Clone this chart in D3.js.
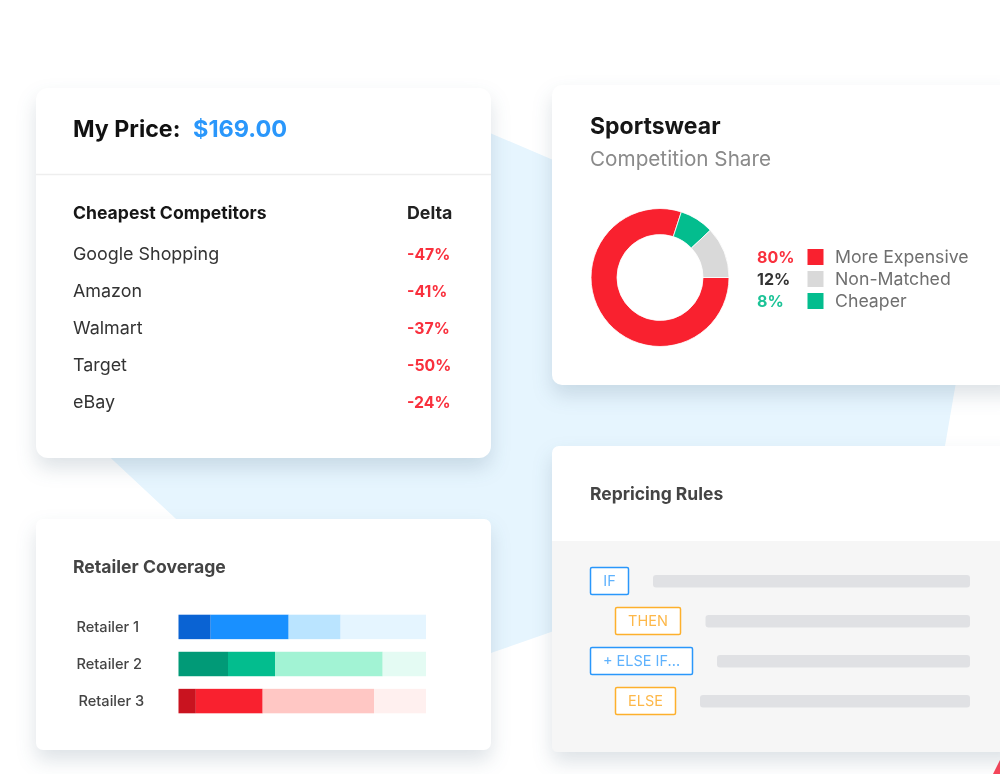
<!DOCTYPE html>
<html>
<head>
<meta charset="utf-8">
<script src="https://cdn.jsdelivr.net/npm/d3@7"></script>
<style>
  html, body { margin: 0; padding: 0; background: #fff; overflow: hidden; }
  svg { display: block; font-family: Inter, "Open Sans", sans-serif; filter: blur(0.4px); }
  .card { filter: drop-shadow(0 10px 10px rgba(30, 60, 90, 0.15)); }
</style>
</head>
<body>
<svg id="chart" width="1000" height="774"></svg>
<script>
// Competitor table
const competitors = ["Google Shopping", "Amazon", "Walmart", "Target", "eBay"];
const deltas = [-47, -41, -37, -50, -24];

// Donut, legend order
const shareLabels = ["More Expensive", "Non-Matched", "Cheaper"];
const shareValues = [80, 12, 8];
const shareColors = ["#f9212f", "#d9d9d9", "#03bd8e"];
const shareTextColors = ["#f9303d", "#333333", "#1cc397"];
const shareDrawOrder = ["More Expensive", "Cheaper", "Non-Matched"];

// Retailer stacked bars (percent of the track)
const retailers = ["Retailer 1", "Retailer 2", "Retailer 3"];
const coverageA = [13, 20, 7];
const coverageB = [31.5, 19, 27];
const coverageC = [21, 43.5, 45];
const coverageD = [34.5, 17.5, 21];
const coverageColors = [
    ["#0a63d3", "#1990ff", "#bae4ff", "#e5f5ff"],
    ["#019a77", "#03bd8e", "#a2f3d4", "#e4fbf3"],
    ["#c9131f", "#f9212f", "#ffc7c4", "#fff0ef"]
];

// Repricing rules
const ruleTags = ["IF", "THEN", "+ ELSE IF...", "ELSE"];
const ruleLevels = [0, 1, 0, 1];
const ruleLengths = [317, 264.5, 253, 270];

const svg = d3.select("#chart");

function addText(g, x, y, str, size, weight, fill, anchor) {
    return g.append("text")
        .attr("x", x).attr("y", y)
        .attr("font-size", size)
        .attr("font-weight", weight)
        .attr("fill", fill)
        .attr("text-anchor", anchor || "start")
        .text(str);
}

// Light blue shape behind the cards
svg.append("path")
    .attr("d", "M300 100 L400 100 L490 133 L600 180 L965 330 L945 446 L700 580 L491 653 L300 640 L175 518 L70 420 Z")
    .attr("fill", "#e6f5fe");

// Red corner fragment, bottom right
svg.append("path")
    .attr("d", "M1000 760 L993 774 L1000 774 Z")
    .attr("fill", "#f9465a");

// --- price card ---
const priceCard = svg.append("g").attr("class", "card");
priceCard.append("rect")
    .attr("x", 36).attr("y", 88).attr("width", 455).attr("height", 370)
    .attr("rx", 12).attr("fill", "#fff");
priceCard.append("line")
    .attr("x1", 36).attr("x2", 491).attr("y1", 174.5).attr("y2", 174.5)
    .attr("stroke", "#eeeeee").attr("stroke-width", 1.5);

const price = svg.append("g");
addText(price, 73, 137, "My Price:", 23.2, 700, "#111111");
addText(price, 193, 137, "$169.00", 23.5, 700, "#2a97fb");
addText(price, 73, 218.5, "Cheapest Competitors", 17.6, 700, "#161616");
addText(price, 407, 218.5, "Delta", 17.8, 700, "#222222");

const rowY = d3.scalePoint().domain(competitors).range([254, 402]);
const rows = price.selectAll("g.row").data(competitors).join("g")
    .attr("class", "row")
    .attr("transform", d => `translate(0,${rowY(d)})`);
rows.append("text")
    .attr("x", 73).attr("dy", "0.36em")
    .attr("font-size", 17.9).attr("fill", "#333333")
    .text(d => d);
rows.append("text")
    .attr("x", 407).attr("dy", "0.36em")
    .attr("font-size", 15.8).attr("font-weight", 700).attr("fill", "#f9303d")
    .text((d, i) => `${deltas[i]}%`);

// --- sportswear card ---
const shareCard = svg.append("g").attr("class", "card");
shareCard.append("rect")
    .attr("x", 552).attr("y", 85).attr("width", 470).attr("height", 300)
    .attr("rx", 10).attr("fill", "#fff");

const share = svg.append("g");
addText(share, 590, 134, "Sportswear", 23, 700, "#161616");
addText(share, 590, 166, "Competition Share", 20.7, 400, "#8a8a8a");

const shareData = shareDrawOrder.map(name => ({
    name,
    value: shareValues[shareLabels.indexOf(name)],
    color: shareColors[shareLabels.indexOf(name)]
}));
const pie = d3.pie().sort(null).value(d => d.value)
    .startAngle(Math.PI / 2).endAngle(Math.PI / 2 + 2 * Math.PI);
const arc = d3.arc().innerRadius(43).outerRadius(69);
share.append("g")
    .attr("transform", "translate(660,277.5)")
    .selectAll("path").data(pie(shareData)).join("path")
    .attr("d", arc)
    .attr("fill", d => d.data.color)
    .attr("stroke", "#fff").attr("stroke-width", 0.8);

const legendY = d3.scalePoint().domain(shareLabels).range([257, 301]);
const legend = share.selectAll("g.legend").data(shareLabels).join("g")
    .attr("class", "legend")
    .attr("transform", d => `translate(0,${legendY(d)})`);
legend.append("text")
    .attr("x", 757).attr("dy", "0.36em")
    .attr("font-size", 16).attr("font-weight", 700)
    .attr("fill", (d, i) => shareTextColors[i])
    .text((d, i) => `${shareValues[i]}%`);
legend.append("rect")
    .attr("x", 807.5).attr("y", -8).attr("width", 16).attr("height", 16)
    .attr("fill", (d, i) => shareColors[i]);
legend.append("text")
    .attr("x", 835).attr("dy", "0.36em")
    .attr("font-size", 17.7).attr("fill", "#6f6f6f")
    .text(d => d);

// --- retailer coverage card ---
const coverageCard = svg.append("g").attr("class", "card");
coverageCard.append("rect")
    .attr("x", 36).attr("y", 519).attr("width", 455).attr("height", 231)
    .attr("rx", 7).attr("fill", "#fff");

const coverage = svg.append("g");
addText(coverage, 73, 573, "Retailer Coverage", 17.6, 700, "#444444");

const stackRows = retailers.map((name, i) => ({
    name, a: coverageA[i], b: coverageB[i], c: coverageC[i], d: coverageD[i]
}));
const series = d3.stack().keys(["a", "b", "c", "d"])(stackRows);
const xBar = d3.scaleLinear().domain([0, 100]).range([178.5, 426]);
const yBar = d3.scaleBand().domain(retailers).range([614.7, 713.3]).paddingInner(0.34);

coverage.selectAll("g.seg").data(series).join("g")
    .attr("class", "seg")
    .selectAll("rect").data((s, k) => s.map((v, i) => ({ v, i, k }))).join("rect")
    .attr("x", d => xBar(d.v[0]))
    .attr("width", d => xBar(d.v[1]) - xBar(d.v[0]))
    .attr("y", d => yBar(retailers[d.i]))
    .attr("height", yBar.bandwidth())
    .attr("fill", d => coverageColors[d.i][d.k]);

coverage.selectAll("text.ret").data(retailers).join("text")
    .attr("class", "ret")
    .attr("x", (d, i) => i === 2 ? 78.5 : 76.5)
    .attr("y", d => yBar(d) + yBar.bandwidth() / 2)
    .attr("dy", "0.36em")
    .attr("font-size", 14.6).attr("font-weight", 500).attr("fill", "#444444")
    .text(d => d);

// --- repricing rules card ---
const rulesCard = svg.append("g").attr("class", "card");
rulesCard.append("rect")
    .attr("x", 552).attr("y", 446).attr("width", 470).attr("height", 306)
    .attr("rx", 7).attr("fill", "#fff");
svg.append("path")
    .attr("d", "M552 541 H1000 V752 H558 Q552 752 552 746 Z")
    .attr("fill", "#f6f6f6");

const rules = svg.append("g");
addText(rules, 590, 500, "Repricing Rules", 17.5, 700, "#444444");

const tagPad = { blue: "#2a97fb", orange: "#fdb02c" };
const tagWidths = [38, 65, 102, 60];
const yRule = d3.scalePoint().domain(ruleTags).range([581, 701]);
const xRule = d3.scaleLinear().domain([0, 317]).range([970, 653]);

const ruleRows = rules.selectAll("g.rule").data(ruleTags).join("g")
    .attr("class", "rule")
    .attr("transform", d => `translate(0,${yRule(d)})`);
ruleRows.append("rect")
    .attr("x", (d, i) => xRule(ruleLengths[i]))
    .attr("y", -6)
    .attr("width", (d, i) => 970 - xRule(ruleLengths[i]))
    .attr("height", 12.5)
    .attr("rx", 3)
    .attr("fill", "#e0e1e4");
ruleRows.append("rect")
    .attr("x", (d, i) => 590.5 + ruleLevels[i] * 25)
    .attr("y", -13.5)
    .attr("width", (d, i) => tagWidths[i])
    .attr("height", 27)
    .attr("rx", 1.5)
    .attr("fill", "#fff")
    .attr("stroke", (d, i) => ruleLevels[i] ? tagPad.orange : tagPad.blue)
    .attr("stroke-width", 1.5);
ruleRows.append("text")
    .attr("x", (d, i) => 590.5 + ruleLevels[i] * 25 + tagWidths[i] / 2)
    .attr("dy", "0.36em")
    .attr("text-anchor", "middle")
    .attr("font-size", 14.5)
    .attr("fill", (d, i) => ruleLevels[i] ? "#fdb84a" : "#5fb2fd")
    .text(d => d);
</script>
</body>
</html>
